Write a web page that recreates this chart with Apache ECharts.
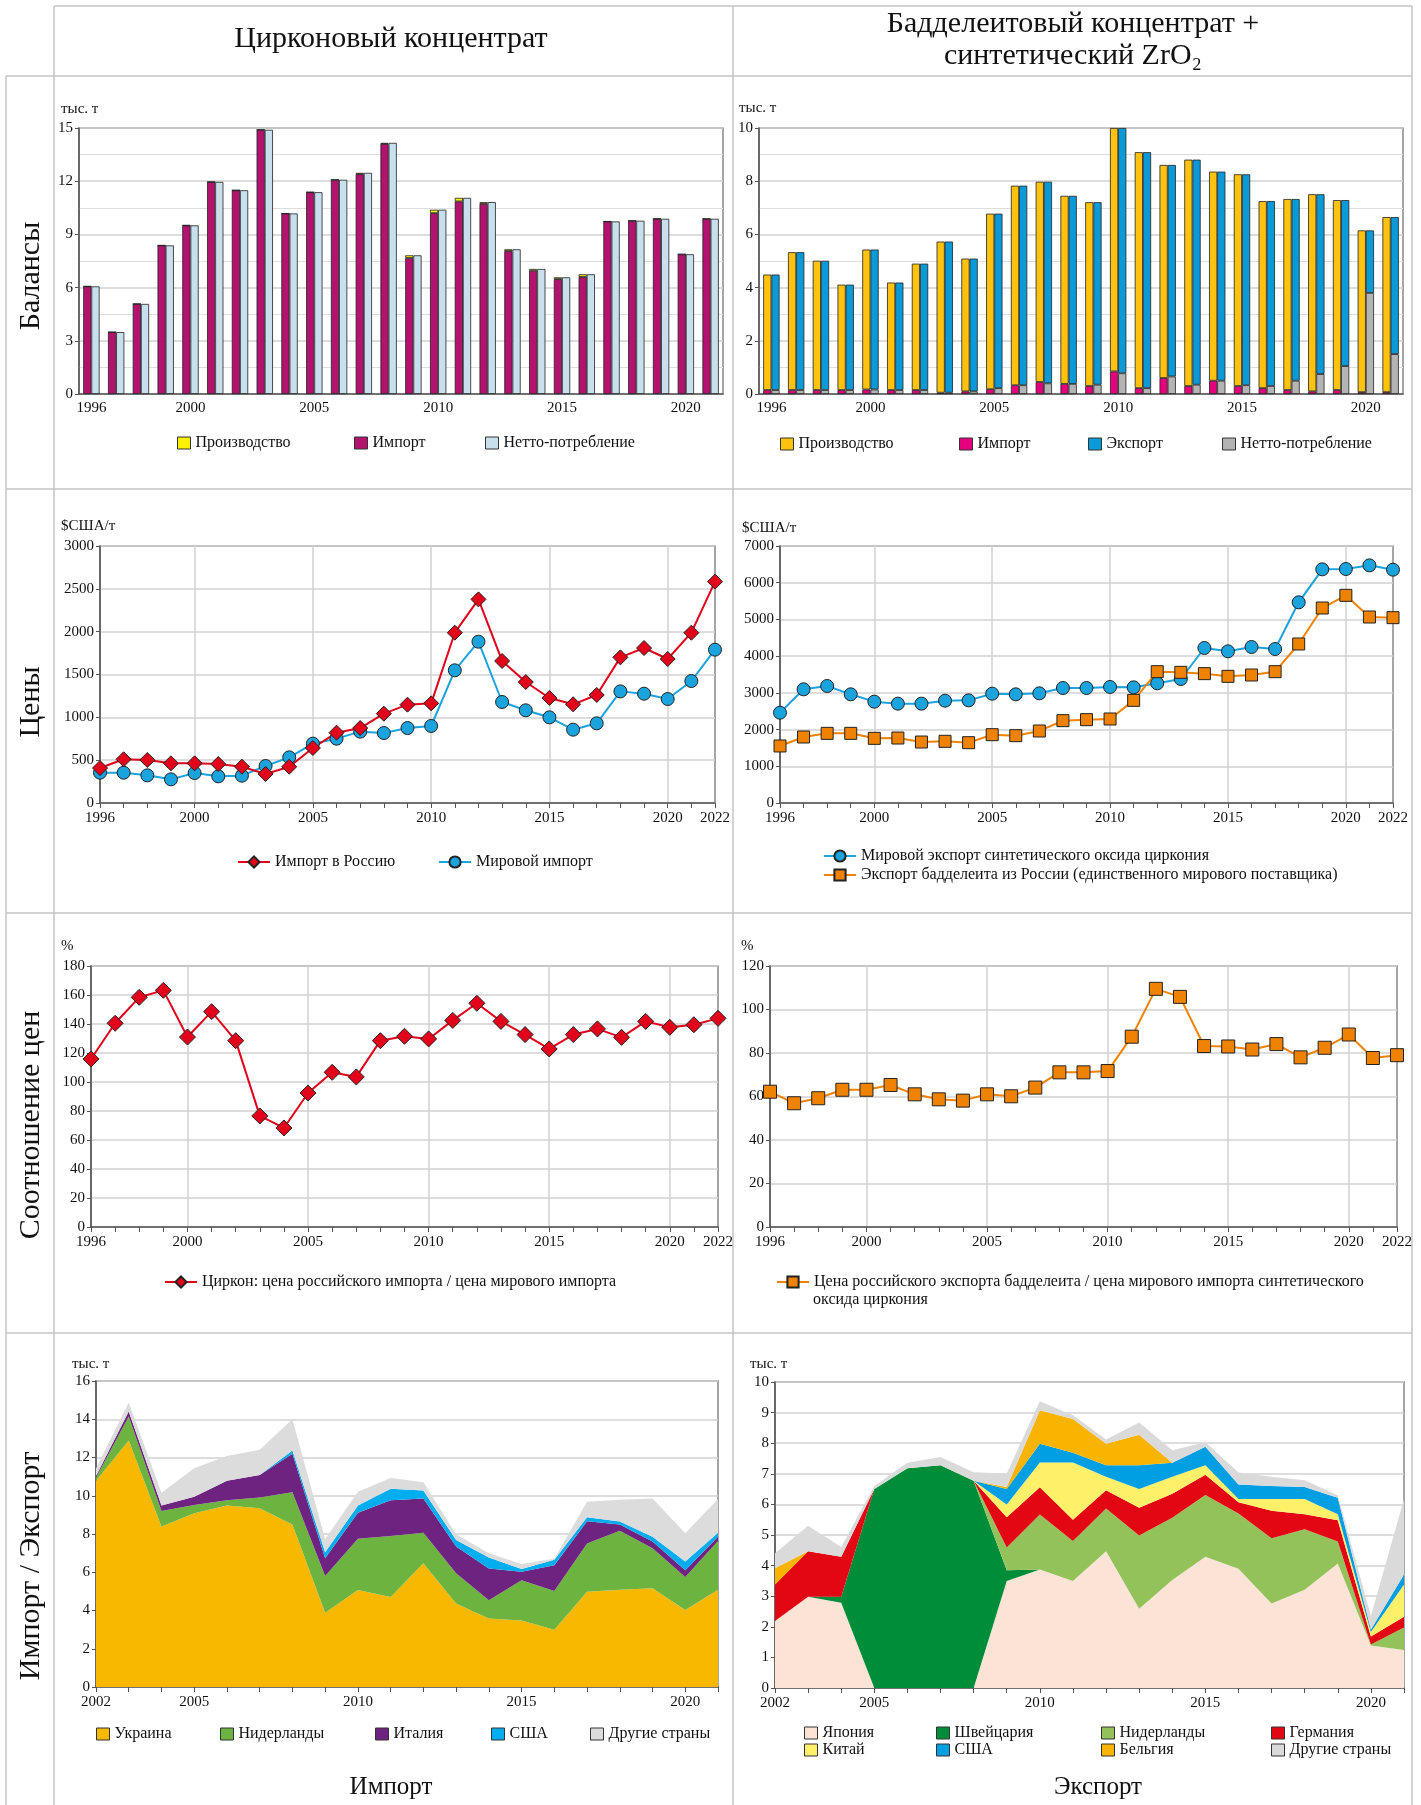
<!DOCTYPE html>
<html><head><meta charset="utf-8">
<script src="https://cdn.jsdelivr.net/npm/echarts@6/dist/echarts.min.js"></script>
<style>html,body{margin:0;padding:0;background:#fff}#c{width:1421px;height:1805px}</style>
</head><body><div id="c"></div>
<script>
// ---------- categories ----------
const barYears = ['1996','1997','1998','1999','2000','2001','2002','2003','2004','2005','2006','2007','2008','2009','2010','2011','2012','2013','2014','2015','2016','2017','2018','2019','2020','2021'];
const priceYears = ['1996','1997','1998','1999','2000','2001','2002','2003','2004','2005','2006','2007','2008','2009','2010','2011','2012','2013','2014','2015','2016','2017','2018','2019','2020','2021','2022'];
const areaYears = ['2002','2003','2004','2005','2006','2007','2008','2009','2010','2011','2012','2013','2014','2015','2016','2017','2018','2019','2020','2021'];
const barLabelYears = ['1996','2000','2005','2010','2015','2020'];
const priceLabelYears = ['1996','2000','2005','2010','2015','2020','2022'];
const priceGridYears = ['2000','2005','2010','2015','2020'];
const areaLabelYears = ['2002','2005','2010','2015','2020'];

// ---------- balances: zircon concentrate (thousand t) ----------
const zrImport = [6.07,3.49,5.08,8.38,9.51,11.96,11.49,14.9,10.18,11.38,12.08,12.4,14.1,7.67,10.2,10.86,10.72,8.06,6.95,6.48,6.6,9.73,9.77,9.88,7.88,9.88];
const zrProduction = [0,0,0,0,0,0,0,0,0,0,0,0.07,0.06,0.15,0.19,0.2,0.1,0.1,0.1,0.1,0.15,0,0,0,0,0];
const zrNetto = [6.07,3.49,5.08,8.38,9.51,11.96,11.49,14.9,10.18,11.38,12.08,12.47,14.16,7.82,10.39,11.06,10.82,8.16,7.05,6.58,6.75,9.73,9.77,9.88,7.88,9.88];

// ---------- balances: baddeleyite + synthetic ZrO2 (thousand t) ----------
const bdProduction = [4.34,5.18,4.86,3.96,5.26,4.04,4.75,5.68,4.99,6.6,7.5,7.53,7.07,6.91,9.15,8.87,8.01,8.51,7.86,7.96,7.03,7.18,7.41,7.14,6.08,6.58];
const bdImport = [0.15,0.15,0.15,0.15,0.17,0.15,0.15,0.05,0.1,0.18,0.33,0.45,0.38,0.3,0.85,0.22,0.6,0.3,0.5,0.3,0.22,0.15,0.1,0.15,0.07,0.07];
const bdExport = [4.34,5.18,4.86,3.96,5.26,4.04,4.75,5.68,4.99,6.56,7.5,7.58,7.07,6.86,9.22,8.87,7.95,8.46,7.86,7.93,6.95,6.83,6.76,6.24,2.35,5.15];
const bdNetto = [0.15,0.15,0.15,0.15,0.17,0.15,0.15,0.05,0.1,0.22,0.33,0.4,0.38,0.35,0.78,0.22,0.66,0.35,0.5,0.33,0.3,0.5,0.75,1.05,3.8,1.5];

// ---------- prices (USD/t) ----------
const zrPriceRussia = [408,510,502,463,463,455,424,339,424,642,821,875,1043,1148,1163,1988,2377,1658,1412,1226,1152,1261,1700,1809,1681,1988,2584];
const zrPriceWorld = [354,354,323,276,350,311,319,432,533,693,751,833,817,875,899,1549,1883,1179,1082,1000,856,930,1303,1276,1214,1424,1790];
const bdPriceWorldSynth = [2460,3096,3187,2960,2760,2706,2706,2787,2796,2978,2960,2987,3132,3132,3160,3150,3260,3377,4222,4131,4249,4194,5466,6364,6373,6473,6355];
const bdPriceRussia = [1553,1798,1897,1897,1761,1770,1661,1680,1643,1861,1834,1961,2243,2270,2288,2796,3577,3559,3523,3450,3486,3577,4331,5311,5656,5066,5048];

// ---------- price ratios (%) ----------
const zrRatio = [115.9,140.5,158.4,163.2,131,148.5,128.5,76.6,68.3,92.4,106.7,103.5,128.5,131.5,129.7,142.5,154.3,141.8,132.7,122.8,132.7,136.6,130.8,141.8,137.7,139.5,143.9];
const bdRatio = [62.2,56.9,59.2,63.1,63.1,65.3,61.0,58.7,58.1,61.0,60.1,64.1,71.1,71.1,71.7,87.5,109.5,105.8,83.2,83.0,81.6,84.1,78.0,82.4,88.5,77.7,79.0];

// ---------- import of zircon by country (thousand t) ----------
const impUkraine = [10.79,12.89,8.39,9.09,9.49,9.35,8.5,3.88,5.07,4.7,6.47,4.37,3.58,3.48,3.0,4.98,5.09,5.16,4.02,5.09];
const impNetherlands = [0.17,1.26,0.81,0.42,0.28,0.56,1.68,1.92,2.68,3.2,1.59,1.58,0.95,2.1,2.02,2.52,3.08,2.1,1.73,2.55];
const impItaly = [0.07,0.26,0.29,0.44,1.02,1.18,2.01,0.93,1.36,1.87,1.8,1.39,1.66,0.45,1.34,1.17,0.33,0.35,0.35,0.21];
const impUSA = [0,0,0,0,0,0,0.17,0.32,0.38,0.6,0.42,0.35,0.58,0.14,0.3,0.2,0.16,0.24,0.46,0.21];
const impOther = [0.39,0.47,0.67,1.49,1.29,1.32,1.64,0.68,0.72,0.56,0.42,0.3,0.22,0.26,0.05,0.82,1.13,2.01,1.48,1.77];

// ---------- export of baddeleyite by country (thousand t) ----------
const expJapan = [2.19,2.98,2.79,0,0,0,0,3.5,3.87,3.5,4.47,2.59,3.53,4.29,3.9,2.76,3.21,4.07,1.39,1.24];
const expSwitzerland = [0,0,0.19,6.5,7.18,7.28,6.77,0.35,0,0,0,0,0,0,0,0,0,0,0,0];
const expNetherlands = [0,0,0,0,0,0,0,0.74,1.8,1.3,1.4,2.39,2.03,2.02,1.8,2.13,1.98,0.72,0.03,0.74];
const expGermany = [1.19,1.49,1.31,0,0,0,0,0.99,0.89,0.7,0.59,0.91,0.79,0.66,0.37,0.9,0.49,0.69,0.26,0.35];
const expChina = [0,0,0,0,0,0,0,0.42,0.81,1.87,0.44,0.61,0.55,0.31,0.11,0.39,0.5,0.2,0.15,1.05];
const expUSA = [0,0,0,0,0,0,0,0.5,0.61,0.32,0.38,0.78,0.46,0.6,0.47,0.42,0.39,0.54,0.08,0.33];
const expBelgium = [0.53,0,0,0,0,0,0,0.07,1.1,1.1,0.7,1.0,0,0,0,0,0,0,0,0];
const expOther = [0.49,0.83,0.32,0.1,0.18,0.27,0.28,0.44,0.29,0.12,0.14,0.4,0.41,0.15,0.39,0.3,0.22,0.08,0.44,2.47];

// ================= chart =================
const F = "'Liberation Serif', 'DejaVu Serif', serif";
const TXT = '#111';
const GRIDC = '#d2d2d2';
const AXC = '#555';

const grids = [
  {left:79, top:128, width:644, height:266},
  {left:759, top:128, width:644, height:266},
  {left:100, top:546, width:615, height:257},
  {left:780, top:546, width:613, height:257},
  {left:91, top:966, width:627, height:261},
  {left:770, top:966, width:627, height:261},
  {left:96, top:1381, width:622, height:306},
  {left:775, top:1382, width:629, height:306}
].map(g => Object.assign({show:true, borderColor:'#888', borderWidth:1.5, containLabel:false}, g));

function catAxis(gi, data, labelYears, opts) {
  opts = opts || {};
  return {
    type:'category', gridIndex:gi, data:data, boundaryGap: !!opts.boundaryGap,
    axisLine:{show:true, lineStyle:{color:AXC, width:1.5}},
    axisTick:{show: opts.ticks !== false, interval:0, length:5, lineStyle:{color:AXC}},
    axisLabel:{interval:(i,v)=>labelYears.includes(v), fontFamily:F, fontSize:15, color:TXT, margin: opts.margin || 8},
    splitLine: opts.vgrid ? {show:true, interval:(i,v)=>opts.vgrid.includes(v), lineStyle:{color:GRIDC, width:1.5}} : {show:false}
  };
}
function valAxis(gi, max, interval, minor) {
  const a = {
    type:'value', gridIndex:gi, min:0, max:max, interval:interval,
    axisLine:{show:true, lineStyle:{color:AXC, width:1.5}},
    axisTick:{show:true, length:4, lineStyle:{color:AXC}},
    axisLabel:{fontFamily:F, fontSize:15, color:TXT, margin:6, formatter: v => String(v)},
    splitLine:{show:true, lineStyle:{color:GRIDC, width:1.5}}
  };
  if (minor) {
    a.minorTick = {show:false, splitNumber:2};
    a.minorSplitLine = {show:true, lineStyle:{color:'#dedede', width:1}};
  }
  return a;
}

const xAxes = [
  catAxis(0, barYears, barLabelYears, {boundaryGap:true, ticks:false, margin:7}),
  catAxis(1, barYears, barLabelYears, {boundaryGap:true, ticks:false, margin:7}),
  catAxis(2, priceYears, priceLabelYears, {vgrid:priceGridYears}),
  catAxis(3, priceYears, priceLabelYears, {vgrid:priceGridYears}),
  catAxis(4, priceYears, priceLabelYears, {vgrid:priceGridYears}),
  catAxis(5, priceYears, priceLabelYears, {vgrid:priceGridYears}),
  catAxis(6, areaYears, areaLabelYears, {}),
  catAxis(7, areaYears, areaLabelYears, {})
];
const yAxes = [
  valAxis(0, 15, 3, true),
  valAxis(1, 10, 2, true),
  valAxis(2, 3000, 500),
  valAxis(3, 7000, 1000),
  valAxis(4, 180, 20),
  valAxis(5, 120, 20),
  valAxis(6, 16, 2),
  valAxis(7, 10, 1)
];

function bar(name, gi, stack, data, color) {
  return {name, type:'bar', xAxisIndex:gi, yAxisIndex:gi, stack, data,
    barGap:'0%', barCategoryGap:'34%',
    itemStyle:{color, borderColor:'#222', borderWidth:0.8}};
}
function ln(name, gi, data, color, symbol, size, mcolor) {
  return {name, type:'line', xAxisIndex:gi, yAxisIndex:gi, data, symbol, symbolSize:size,
    showAllSymbol:true,
    lineStyle:{color, width:2}, itemStyle:{color: mcolor || color, borderColor:'#222', borderWidth:1}};
}
function area(name, gi, stack, data, color) {
  return {name, type:'line', xAxisIndex:gi, yAxisIndex:gi, stack, data, symbol:'none',
    lineStyle:{width:0, opacity:0}, areaStyle:{color, opacity:1}, itemStyle:{color}};
}

const series = [
  bar('Импорт', 0, 'zl', zrImport, '#b3126f'),
  bar('Производство', 0, 'zl', zrProduction, '#fff000'),
  bar('Нетто-потребление', 0, 'zr', zrNetto, '#c8e0ed'),

  bar('Импорт_b', 1, 'bl', bdImport, '#e6007e'),
  bar('Производство_b', 1, 'bl', bdProduction, '#ffc20e'),
  bar('Нетто-потребление_b', 1, 'br', bdNetto, '#b4b4b4'),
  bar('Экспорт_b', 1, 'br', bdExport, '#0a9ad8'),

  ln('Мировой импорт', 2, zrPriceWorld, '#1ba3dd', 'circle', 13),
  ln('Импорт в Россию', 2, zrPriceRussia, '#e2001a', 'diamond', 15),

  ln('Мировой экспорт синтетического оксида циркония', 3, bdPriceWorldSynth, '#1ba3dd', 'circle', 13),
  ln('Экспорт бадделеита из России (единственного мирового поставщика)', 3, bdPriceRussia, '#ef8200', 'rect', 12),

  ln('Циркон: цена российского импорта / цена мирового импорта', 4, zrRatio, '#e2001a', 'diamond', 16),
  ln('Цена российского экспорта бадделеита / цена мирового импорта синтетического', 5, bdRatio, '#ef8200', 'rect', 13),

  area('Украина', 6, 'ai', impUkraine, '#f9b800'),
  area('Нидерланды', 6, 'ai', impNetherlands, '#6cb33f'),
  area('Италия', 6, 'ai', impItaly, '#6e2380'),
  area('США', 6, 'ai', impUSA, '#00aeef'),
  area('Другие страны', 6, 'ai', impOther, '#dcdcdc'),

  area('Япония', 7, 'ae', expJapan, '#fbe3d6'),
  area('Швейцария', 7, 'ae', expSwitzerland, '#008d39'),
  area('Нидерланды_e', 7, 'ae', expNetherlands, '#94c25a'),
  area('Германия', 7, 'ae', expGermany, '#e30613'),
  area('Китай', 7, 'ae', expChina, '#fff06a'),
  area('США_e', 7, 'ae', expUSA, '#009fe3'),
  area('Бельгия', 7, 'ae', expBelgium, '#f9b400'),
  area('Другие страны_e', 7, 'ae', expOther, '#dadada')
];

const strip = n => n.replace(/_[a-z]$/, '');
const LF = 16;
function boxLegend(names, left, cy, extra) {
  return Object.assign({data:names, left, top: cy - 7, orient:'horizontal', padding:0, itemGap:10,
    icon:'rect', itemWidth:13, itemHeight:12, selectedMode:false,
    itemStyle:{borderColor:'#333', borderWidth:1},
    textStyle:{fontFamily:F, fontSize:LF, color:TXT}, formatter:strip}, extra || {});
}
function lineLegend(names, left, cy, extra) {
  return Object.assign({data:names, left, top: cy - 7, orient:'horizontal', padding:0, itemGap:10,
    itemWidth:32, itemHeight:14, selectedMode:false,
    textStyle:{fontFamily:F, fontSize:LF, color:TXT}, formatter:strip}, extra || {});
}

const legends = [
  boxLegend(['Производство'], 177, 442),
  boxLegend(['Импорт'], 354, 442),
  boxLegend(['Нетто-потребление'], 485, 442),
  boxLegend(['Производство_b'], 780, 443),
  boxLegend(['Импорт_b'], 959, 443),
  boxLegend(['Экспорт_b'], 1088, 443),
  boxLegend(['Нетто-потребление_b'], 1222, 443),
  lineLegend(['Импорт в Россию'], 237, 861),
  lineLegend(['Мировой импорт'], 438, 861),
  lineLegend(['Мировой экспорт синтетического оксида циркония', 'Экспорт бадделеита из России (единственного мирового поставщика)'], 823, 855, {orient:'vertical', itemGap:3}),
  lineLegend(['Циркон: цена российского импорта / цена мирового импорта'], 164, 1281),
  lineLegend(['Цена российского экспорта бадделеита / цена мирового импорта синтетического'], 776, 1281),
  boxLegend(['Украина'], 96, 1733),
  boxLegend(['Нидерланды'], 220, 1733),
  boxLegend(['Италия'], 375, 1733),
  boxLegend(['США'], 491, 1733),
  boxLegend(['Другие страны'], 590, 1733),
  boxLegend(['Япония', 'Китай'], 804, 1732, {orient:'vertical', itemGap:1}),
  boxLegend(['Швейцария', 'США_e'], 936, 1732, {orient:'vertical', itemGap:1}),
  boxLegend(['Нидерланды_e', 'Бельгия'], 1101, 1732, {orient:'vertical', itemGap:1}),
  boxLegend(['Германия', 'Другие страны_e'], 1271, 1732, {orient:'vertical', itemGap:1})
];

// ---------- table frame & texts ----------
const LC = '#c4c4c4';
function hl(y, x1, x2) { return {type:'line', shape:{x1, y1:y, x2, y2:y}, style:{stroke:LC, lineWidth:1.5}, silent:true}; }
function vl(x, y1, y2) { return {type:'line', shape:{x1:x, y1, x2:x, y2}, style:{stroke:LC, lineWidth:1.5}, silent:true}; }
function tx(text, x, y, size, align, rot) {
  return {type:'text', x, y, rotation: rot || 0, silent:true,
    style:{text, font: size + 'px ' + F, fill:TXT, textAlign: align || 'left', textVerticalAlign:'middle', align: align || 'left', verticalAlign:'middle'}};
}
const graphics = [
  hl(6, 54, 1412), hl(76, 6, 1412), hl(489, 6, 1412), hl(913, 6, 1412), hl(1333, 6, 1412),
  vl(6, 76, 1805), vl(54, 6, 1805), vl(733, 6, 1805), vl(1412, 6, 1805),
  tx('Цирконовый концентрат', 391, 39, 30, 'center'),
  tx('Бадделеитовый концентрат +', 1073, 24, 30, 'center'),
  tx('синтетический ZrO₂', 1073, 56, 30, 'center'),
  tx('Балансы', 31, 276, 30, 'center', Math.PI/2),
  tx('Цены', 31, 702, 30, 'center', Math.PI/2),
  tx('Соотношение цен', 31, 1125, 30, 'center', Math.PI/2),
  tx('Импорт / Экспорт', 31, 1566, 30, 'center', Math.PI/2),
  tx('тыс. т', 61, 109, 15),
  tx('тыс. т', 739, 108, 15),
  tx('$США/т', 61, 526, 15),
  tx('$США/т', 742, 528, 15),
  tx('%', 61, 946, 15),
  tx('%', 741, 946, 15),
  tx('тыс. т', 72, 1364, 15),
  tx('тыс. т', 750, 1364, 15),
  tx('оксида циркония', 813, 1300, LF),
  tx('Импорт', 391, 1787, 25, 'center'),
  tx('Экспорт', 1098, 1787, 25, 'center')
];

const chart = echarts.init(document.getElementById('c'), null, {renderer:'canvas'});
chart.setOption({
  backgroundColor:'#fff',
  animation:false,
  textStyle:{fontFamily:F},
  grid: grids,
  xAxis: xAxes,
  yAxis: yAxes,
  legend: legends,
  series: series,
  graphic: {elements: graphics}
});
</script>
</body></html>
